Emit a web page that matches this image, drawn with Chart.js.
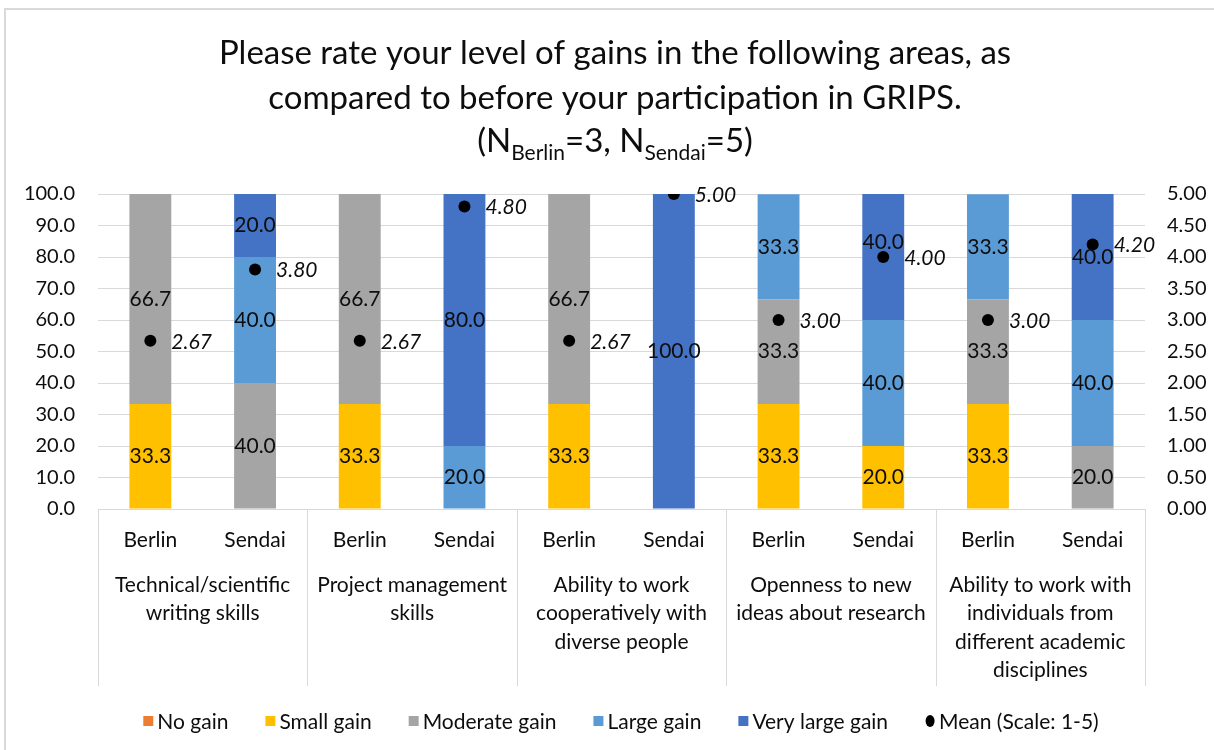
<!DOCTYPE html>
<html>
<head>
<meta charset="utf-8">
<title>Gains after GRIPS participation</title>
<script src="https://cdn.jsdelivr.net/npm/chart.js@4.4.1/dist/chart.umd.min.js"></script>
<style>
  html, body { margin: 0; padding: 0; background: #fff; }
  #frame {
    position: absolute; left: 4px; top: 8px; width: 1214px; height: 750px;
    border-top: 2px solid #d9d9d9; border-left: 2px solid #d9d9d9;
  }
  #wrap { position: absolute; left: 0; top: 0; width: 1214px; height: 750px; }
</style>
</head>
<body>
<div id="frame"></div>
<div id="wrap"><canvas id="chart" width="1214" height="750"></canvas></div>
<script>
// Survey sites shown as bars within each skill group
const sites = ['Berlin', 'Sendai'];

// Skill areas (each group holds one Berlin bar and one Sendai bar)
const skillGroups = [
  ['Technical/scientific', 'writing skills'],
  ['Project management', 'skills'],
  ['Ability to work', 'cooperatively with', 'diverse people'],
  ['Openness to new', 'ideas about research'],
  ['Ability to work with', 'individuals from', 'different academic', 'disciplines']
];

// Share of respondents (%) per bar, in order Berlin/Sendai for each group
const noGain        = [0,    0,    0,    0,    0,    0,    0,    0,    0,    0];
const smallGain     = [33.3, 0,    33.3, 0,    33.3, 0,    33.3, 20.0, 33.3, 0];
const moderateGain  = [66.7, 40.0, 66.7, 0,    66.7, 0,    33.3, 0,    33.3, 20.0];
const largeGain     = [0,    40.0, 0,    20.0, 0,    0,    33.3, 40.0, 33.3, 40.0];
const veryLargeGain = [0,    20.0, 0,    80.0, 0,    100.0, 0,   40.0, 0,    40.0];

// Mean rating on a 1-5 scale
const meanScore = [2.67, 3.80, 2.67, 4.80, 2.67, 5.00, 3.00, 4.00, 3.00, 4.20];

// Axis tick ranges
const leftTicks  = { min: 0, max: 100, step: 10 };
const rightTicks = { min: 0, max: 5, step: 0.5 };

const FONT = 'Lato';
const INK = '#0d0d0d';
const GRID = '#d9d9d9';

const barLabels = [];
for (let g = 0; g < skillGroups.length; g++) {
  for (const s of sites) barLabels.push(s);
}

// Per-label vertical nudges for value labels that would sit on a mean marker
const labelNudge = { '4:7': -15 };

const groupLabelsPlugin = {
  id: 'groupLabels',
  afterDraw(chart) {
    const { ctx, chartArea } = chart;
    const groupW = chartArea.width / skillGroups.length;
    ctx.save();
    // group separators below the axis
    ctx.strokeStyle = GRID;
    ctx.lineWidth = 1;
    for (let i = 0; i <= skillGroups.length; i++) {
      const x = Math.round(chartArea.left + i * groupW) + 0.5;
      ctx.beginPath();
      ctx.moveTo(x, chartArea.bottom);
      ctx.lineTo(x, chartArea.bottom + 177);
      ctx.stroke();
    }
    ctx.fillStyle = INK;
    ctx.font = `21px ${FONT}`;
    ctx.textAlign = 'center';
    ctx.textBaseline = 'middle';
    skillGroups.forEach((lines, i) => {
      const cx = chartArea.left + (i + 0.5) * groupW;
      lines.forEach((line, j) => {
        ctx.fillText(line, cx, chartArea.bottom + 76 + j * 28.5);
      });
    });
    ctx.restore();
  }
};

const valueLabelsPlugin = {
  id: 'valueLabels',
  afterDatasetsDraw(chart) {
    const { ctx } = chart;
    ctx.save();
    ctx.textAlign = 'center';
    ctx.textBaseline = 'middle';
    ctx.fillStyle = INK;
    chart.data.datasets.forEach((ds, di) => {
      const meta = chart.getDatasetMeta(di);
      if (meta.hidden) return;
      if (ds.type === 'line') {
        ctx.font = `italic 21px ${FONT}`;
        ctx.textAlign = 'left';
        meta.data.forEach((pt, i) => {
          ctx.fillText(ds.data[i].toFixed(2), pt.x + 21, pt.y + 1);
        });
        ctx.textAlign = 'center';
        return;
      }
      ctx.font = `21px ${FONT}`;
      meta.data.forEach((bar, i) => {
        const v = ds.data[i];
        if (!v) return;
        const dy = labelNudge[di + ':' + i] || 0;
        ctx.fillText(v.toFixed(1), bar.x, (bar.y + bar.base) / 2 + dy);
      });
    });
    ctx.restore();
  }
};

const titlePlugin = {
  id: 'titleLines',
  afterDraw(chart) {
    const { ctx } = chart;
    const cx = 615;
    ctx.save();
    ctx.fillStyle = INK;
    ctx.textBaseline = 'alphabetic';
    ctx.textAlign = 'center';
    ctx.font = `33px ${FONT}`;
    ctx.fillText('Please rate your level of gains in the following areas, as', cx, 64);
    ctx.fillText('compared to before your participation in GRIPS.', cx, 109);
    // third line with subscripts
    const parts = [
      { t: '(N', sub: false }, { t: 'Berlin', sub: true },
      { t: '=3, N', sub: false }, { t: 'Sendai', sub: true },
      { t: '=5)', sub: false }
    ];
    const big = `33px ${FONT}`, small = `21px ${FONT}`;
    let total = 0;
    parts.forEach(p => { ctx.font = p.sub ? small : big; p.w = ctx.measureText(p.t).width; total += p.w; });
    let x = cx - total / 2;
    ctx.textAlign = 'left';
    parts.forEach(p => {
      ctx.font = p.sub ? small : big;
      ctx.fillText(p.t, x, p.sub ? 160 : 152);
      x += p.w;
    });
    ctx.restore();
  }
};

const legendPlugin = {
  id: 'bottomLegend',
  afterDraw(chart) {
    const { ctx } = chart;
    const items = chart.data.datasets.map(ds => ({
      text: ds.label,
      color: ds.type === 'line' ? ds.pointBackgroundColor : ds.backgroundColor,
      shape: ds.type === 'line' ? 'dot' : 'rect'
    }));
    const y = 721, box = 10, gap = 4, spacing = 37;
    ctx.save();
    ctx.font = `21px ${FONT}`;
    let total = 0;
    items.forEach(it => { it.w = box + gap + ctx.measureText(it.text).width; total += it.w; });
    total += spacing * (items.length - 1);
    let x = 621 - total / 2;
    ctx.textBaseline = 'middle';
    ctx.textAlign = 'left';
    items.forEach(it => {
      ctx.fillStyle = it.color;
      if (it.shape === 'rect') {
        ctx.fillRect(x, y - box / 2, box, box);
      } else {
        ctx.beginPath();
        ctx.ellipse(x + box / 2, y, 4.5, 6, 0, 0, Math.PI * 2);
        ctx.fill();
      }
      ctx.fillStyle = INK;
      ctx.fillText(it.text, x + box + gap, y + 1);
      x += it.w + spacing;
    });
    ctx.restore();
  }
};

const barDataset = (label, data, color) => ({
  type: 'bar', label, data, backgroundColor: color,
  yAxisID: 'y', order: 1, stack: 'share',
  barPercentage: 0.4, categoryPercentage: 1.0
});

new Chart(document.getElementById('chart'), {
  data: {
    labels: barLabels,
    datasets: [
      barDataset('No gain', noGain, '#ED7D31'),
      barDataset('Small gain', smallGain, '#FFC000'),
      barDataset('Moderate gain', moderateGain, '#A5A5A5'),
      barDataset('Large gain', largeGain, '#5B9BD5'),
      barDataset('Very large gain', veryLargeGain, '#4472C4'),
      {
        type: 'line', label: 'Mean (Scale: 1-5)', data: meanScore,
        yAxisID: 'y1', order: 0, showLine: false,
        pointRadius: 6, pointHoverRadius: 6,
        pointBackgroundColor: '#000000', pointBorderColor: '#000000', pointBorderWidth: 0
      }
    ]
  },
  options: {
    responsive: false,
    animation: false,
    layout: { padding: { top: 194, bottom: 0, left: 0, right: 0 } },
    plugins: {
      legend: { display: false },
      title: { display: false },
      tooltip: { enabled: false }
    },
    scales: {
      x: {
        stacked: true,
        grid: { display: false },
        border: { color: GRID, width: 1 },
        ticks: { color: INK, font: { family: FONT, size: 21 }, padding: 11, maxRotation: 0, autoSkip: false },
        afterFit(s) { s.height = 241; }
      },
      y: {
        stacked: true,
        position: 'left',
        min: leftTicks.min, max: leftTicks.max,
        grid: { color: GRID, drawTicks: false },
        border: { display: false },
        ticks: {
          stepSize: leftTicks.step, color: INK, padding: 23,
          font: { family: FONT, size: 20 },
          callback: v => Number(v).toFixed(1)
        },
        afterFit(s) { s.width = 98; }
      },
      y1: {
        position: 'right',
        min: rightTicks.min, max: rightTicks.max,
        grid: { drawOnChartArea: false, drawTicks: false },
        border: { display: false },
        ticks: {
          stepSize: rightTicks.step, color: INK, padding: 22,
          font: { family: FONT, size: 20 },
          callback: v => Number(v).toFixed(2)
        },
        afterFit(s) { s.width = 69; }
      }
    }
  },
  plugins: [valueLabelsPlugin, groupLabelsPlugin, titlePlugin, legendPlugin]
});
</script>
</body>
</html>
